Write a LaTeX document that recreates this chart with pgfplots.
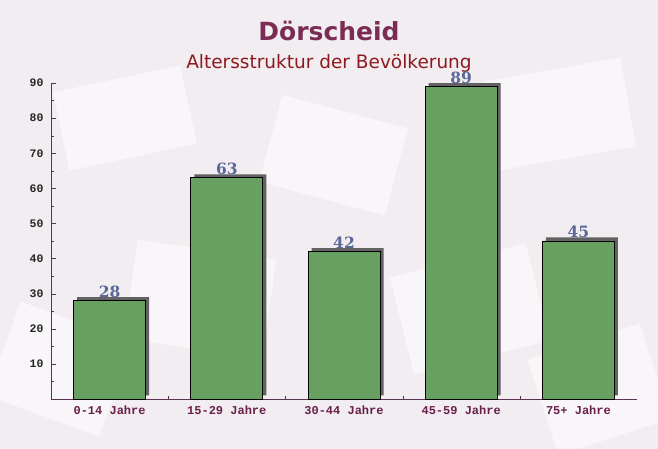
\documentclass[border=0pt]{standalone}
\usepackage{pgfplots}
\pgfplotsset{compat=1.18}
\usepackage{fontspec}
\setmainfont{DejaVu Sans}
\newfontfamily\monofont{Liberation Mono}
\newfontfamily\valfont{DejaVu Serif}

\definecolor{bg}{HTML}{F1EDF0}
\definecolor{titlec}{HTML}{7A2C55}
\definecolor{subc}{HTML}{8E1A1F}
\definecolor{barc}{HTML}{68A062}
\definecolor{shadowc}{HTML}{626262}
\definecolor{valc}{HTML}{5A6898}
\definecolor{axc}{HTML}{5A3450}
\definecolor{xlabc}{HTML}{6A1F4A}

\begin{document}
\begin{tikzpicture}
\useasboundingbox (0,0) rectangle (658pt,449pt);
\begin{scope}
\clip (0,0) rectangle (658pt,449pt);
\fill[bg] (0,0) rectangle (658pt,449pt);
% faint envelope shapes in the background
\begin{scope}[fill=white, fill opacity=0.55]
\fill[rotate around={12:(120pt,330pt)}] (60pt,290pt) rectangle (190pt,370pt);
\fill[rotate around={-15:(330pt,300pt)}] (270pt,250pt) rectangle (400pt,340pt);
\fill[rotate around={10:(560pt,330pt)}] (490pt,290pt) rectangle (630pt,380pt);
\fill[rotate around={-8:(200pt,150pt)}] (130pt,100pt) rectangle (270pt,200pt);
\fill[rotate around={14:(470pt,140pt)}] (400pt,90pt) rectangle (540pt,190pt);
\fill[rotate around={-20:(60pt,80pt)}] (0pt,30pt) rectangle (120pt,130pt);
\fill[rotate around={18:(600pt,60pt)}] (540pt,10pt) rectangle (658pt,110pt);
\end{scope}
\end{scope}
\node[font=\bfseries\fontsize{25}{30}\selectfont, text=titlec] at (329pt,418pt) {Dörscheid};
\node[font=\fontsize{18.5}{22}\selectfont, text=subc] at (329pt,386pt) {Altersstruktur der Bevölkerung};
\begin{axis}[
    at={(51pt,50pt)}, anchor=south west,
    scale only axis,
    width=586pt, height=316pt,
    xmin=-0.5, xmax=4.5,
    ymin=0, ymax=90,
    axis lines*=left,
    axis line style={axc, line width=0.8pt},
    xtick={0,1,2,3,4},
    xticklabels={0-14 Jahre,15-29 Jahre,30-44 Jahre,45-59 Jahre,75+ Jahre},
    minor xtick={0.5,1.5,2.5,3.5},
    ytick={10,20,...,90},
    minor ytick={5,15,...,85},
    tick align=inside,
    major tick length=5pt,
    minor tick length=3pt,
    x tick style={draw=none},
    minor x tick style={draw=axc},
    y tick style={axc},
    /pgf/number format/assume math mode=true,
    xticklabel style={font=\monofont\bfseries\fontsize{12}{14}\selectfont, text=xlabc, yshift=-3pt},
    yticklabel style={font=\monofont\bfseries\fontsize{11.5}{14}\selectfont, text=black!85, xshift=-4pt},
    clip=false,
]
\addplot[ybar, bar width=72pt, bar shift=0pt, fill=shadowc, draw=none,
    xshift=3.5pt, yshift=3.5pt, forget plot]
    coordinates {(0,28) (1,63) (2,42) (3,89) (4,45)};
\addplot[ybar, bar width=72pt, bar shift=0pt, fill=barc, draw=black, line width=0.7pt,
    nodes near coords,
    every node near coord/.append style={font=\valfont\bfseries\fontsize{15.5}{18}\selectfont, text=valc, yshift=-0.5pt}]
    coordinates {(0,28) (1,63) (2,42) (3,89) (4,45)};
\end{axis}
\end{tikzpicture}
\end{document}
